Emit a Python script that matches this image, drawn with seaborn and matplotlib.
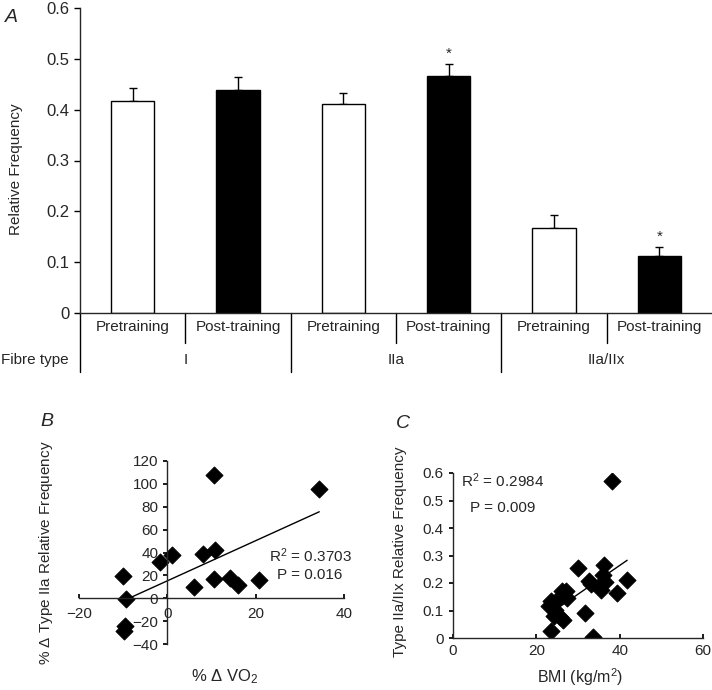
import matplotlib
matplotlib.use('Agg')
import matplotlib.pyplot as plt
import matplotlib.transforms as mtransforms
import seaborn as sns
import numpy as np
import pandas as pd

# Panel A: fibre type relative frequency, pre vs post training
bar_ids = ['I-pre', 'I-post', 'IIa-pre', 'IIa-post', 'IIaIIx-pre', 'IIaIIx-post']
conditions = ['Pretraining', 'Post-training'] * 3
fibre_types = ['I', 'IIa', 'IIa/IIx']
freq_mean = [0.417, 0.438, 0.411, 0.467, 0.168, 0.112]
freq_sem = [0.025, 0.026, 0.022, 0.022, 0.025, 0.018]
significant = [False, False, False, True, False, True]
bar_colors = ['white', 'black'] * 3

# Panel B: % change VO2 vs % change type IIa frequency
vo2_change = [34.4, 10.5, -10.1, -9.3, -9.5, -9.7, -1.7, 1.1, 6.0, 8.0, 10.9, 10.5, 14.2, 16.1, 20.7]
iia_change = [95.5, 107.7, 19.7, -0.9, -24.0, -28.5, 31.6, 37.5, 10.2, 38.3, 41.8, 16.5, 17.4, 11.6, 15.7]

# Panel C: BMI vs type IIa/IIx frequency
bmi = [38.2, 29.9, 36.2, 36.1, 32.6, 33.2, 35.0, 35.4, 36.4, 41.8, 39.4, 26.2, 27.1, 27.4,
       24.8, 23.6, 23.0, 24.5, 24.3, 25.6, 26.4, 31.6, 23.4, 33.5]
iiax_freq = [0.572, 0.255, 0.267, 0.230, 0.206, 0.198, 0.190, 0.176, 0.204, 0.212, 0.164, 0.170, 0.170, 0.145,
             0.133, 0.133, 0.118, 0.103, 0.079, 0.076, 0.067, 0.091, 0.024, 0.004]

sns.set_theme(style='ticks')
plt.rcParams['font.family'] = ['Liberation Sans', 'DejaVu Sans']
plt.rcParams['mathtext.fontset'] = 'custom'
plt.rcParams['mathtext.rm'] = 'Liberation Sans'
plt.rcParams['mathtext.it'] = 'Liberation Sans:italic'
plt.rcParams['axes.linewidth'] = 1.0

W, H = 712, 690
fig = plt.figure(figsize=(W / 100, H / 100), dpi=100)

# ---------------- panel A ----------------
axA = fig.add_axes([80 / W, 1 - 313 / H, 632 / W, 305 / H])
dfA = pd.DataFrame({'bar': bar_ids, 'freq': freq_mean})
sns.barplot(data=dfA, x='bar', y='freq', hue='bar', palette=bar_colors, legend=False,
            width=0.41, edgecolor='black', linewidth=1.0, ax=axA)
pos = np.arange(len(bar_ids))
axA.errorbar(pos, freq_mean, yerr=[np.zeros(len(pos)), freq_sem], fmt='none',
             ecolor='black', elinewidth=1.0, capsize=3, capthick=1.0, zorder=0)
for i, sig in enumerate(significant):
    if sig:
        axA.text(i, freq_mean[i] + freq_sem[i] + 0.02, '*', ha='center', va='center', fontsize=11)

axA.set_xlim(-0.5, 5.5)
axA.set_ylim(0, 0.6)
axA.set_yticks([0, 0.1, 0.2, 0.3, 0.4, 0.5, 0.6])
axA.set_yticklabels(['0', '0.1', '0.2', '0.3', '0.4', '0.5', '0.6'], fontsize=12)
axA.set_xticks([])
axA.set_xlabel('')
axA.set_ylabel('Relative Frequency', fontsize=11)
axA.yaxis.set_label_coords(-0.09, 0.47)
axA.tick_params(axis='y', length=4, width=1, color='black')
sns.despine(ax=axA)

# table under the bars: condition row, fibre type row
trans = mtransforms.blended_transform_factory(axA.transData, axA.transAxes)
for x in [0.5, 2.5, 4.5]:
    axA.plot([x, x], [0, -0.098], transform=trans, clip_on=False, color='black', lw=1.0)
for x in [-0.5, 1.5, 3.5]:
    axA.plot([x, x], [0, -0.193], transform=trans, clip_on=False, color='black', lw=1.0)
for i, c in enumerate(conditions):
    axA.text(i, -0.046, c, transform=trans, ha='center', va='center', fontsize=11)
for g, ft in enumerate(fibre_types):
    axA.text(2 * g + 0.5, -0.154, ft, transform=trans, ha='center', va='center', fontsize=11)
fig.text(1 / W, 1 - 360 / H, 'Fibre type', ha='left', va='center', fontsize=11)
fig.text(11 / W, 1 - 18 / H, 'A', ha='center', va='center', style='italic', fontsize=14)

# ---------------- panel B ----------------
axB = fig.add_axes([79 / W, 46 / H, 265 / W, 183 / H])
sns.scatterplot(x=vo2_change, y=iia_change, marker='D', s=75, color='black', edgecolor='black', ax=axB)
sns.regplot(x=vo2_change, y=iia_change, scatter=False, ci=None, color='black',
            line_kws={'lw': 1.0}, ax=axB)
axB.set_xlim(-20, 40)
axB.set_ylim(-40, 120)
axB.set_xticks([-20, 0, 20, 40])
axB.set_yticks(list(range(-40, 121, 20)))
axB.spines['left'].set_position(('data', 0))
axB.spines['bottom'].set_position(('data', 0))
sns.despine(ax=axB)
axB.tick_params(axis='x', direction='in', length=3, labelsize=11, pad=6, color='black')
axB.tick_params(axis='y', direction='out', length=3, labelsize=11, color='black')
axB.set_xlabel('% $\\Delta$ VO$_2$', fontsize=12)
axB.xaxis.set_label_coords(0.551, -0.13)
axB.set_ylabel('% $\\Delta$ Type IIa Relative Frequency', fontsize=11)
axB.yaxis.set_label_coords(-0.09, 0.5)
axB.text(0.872, 0.48, 'R$^2$ = 0.3703', transform=axB.transAxes, ha='center', va='center', fontsize=11)
axB.text(0.872, 0.377, 'P = 0.016', transform=axB.transAxes, ha='center', va='center', fontsize=11)
fig.text(47 / W, 1 - 422 / H, 'B', ha='center', va='center', style='italic', fontsize=14)

# ---------------- panel C ----------------
axC = fig.add_axes([453 / W, 52 / H, 250 / W, 165 / H])
sns.scatterplot(x=bmi, y=iiax_freq, marker='D', s=75, color='black', edgecolor='black', ax=axC)
sns.regplot(x=bmi, y=iiax_freq, scatter=False, ci=None, color='black',
            line_kws={'lw': 1.0}, ax=axC)
axC.set_xlim(0, 60)
axC.set_ylim(0, 0.6)
axC.set_xticks([0, 20, 40, 60])
axC.set_yticks([0, 0.1, 0.2, 0.3, 0.4, 0.5, 0.6])
axC.set_yticklabels(['0', '0.1', '0.2', '0.3', '0.4', '0.5', '0.6'])
sns.despine(ax=axC)
axC.tick_params(axis='x', direction='in', length=3, labelsize=11, pad=4, color='black')
axC.tick_params(axis='y', direction='out', length=3, labelsize=11, color='black')
axC.set_xlabel('BMI (kg/m$^2$)', fontsize=11.5)
axC.xaxis.set_label_coords(0.508, -0.17)
axC.set_ylabel('Type IIa/IIx Relative Frequency', fontsize=11)
axC.yaxis.set_label_coords(-0.185, 0.52)
axC.text(0.2, 0.952, 'R$^2$ = 0.2984', transform=axC.transAxes, ha='center', va='center', fontsize=11)
axC.text(0.2, 0.788, 'P = 0.009', transform=axC.transAxes, ha='center', va='center', fontsize=11)
fig.text(403 / W, 1 - 423 / H, 'C', ha='center', va='center', style='italic', fontsize=14)

fig.savefig('out.png', dpi=100)
